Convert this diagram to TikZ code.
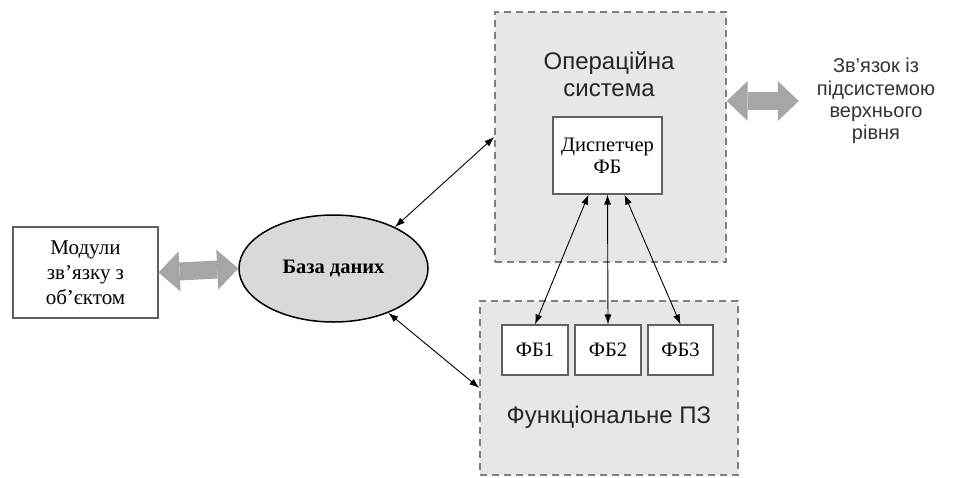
\documentclass[tikz,border=0pt]{standalone}
\usepackage{fontspec}
\setmainfont{Liberation Serif}
\setsansfont{Liberation Sans}
\usetikzlibrary{arrows.meta,shapes.geometric}

\definecolor{panelfill}{HTML}{E7E7E7}
\definecolor{panelline}{HTML}{7F7F7F}
\definecolor{boxline}{HTML}{606060}
\definecolor{dbfill}{HTML}{D9D9D9}
\definecolor{busfill}{HTML}{A6A6A6}

\tikzset{
  panel/.style={draw=panelline, fill=panelfill, line width=1.4pt,
    dash pattern=on 7pt off 5pt, inner sep=0pt},
  block/.style={draw=boxline, fill=white, line width=1.1pt, inner sep=0pt,
    align=center, font=\fontsize{20.5}{22}\selectfont},
  title/.style={font=\sffamily\fontsize{24}{27}\selectfont, align=center,
    inner sep=0pt, text=black!85},
  note/.style={font=\sffamily\fontsize{20}{22.3}\selectfont, align=center,
    inner sep=0pt, text=black!80},
  link/.style={line width=0.9pt,
    {Latex[length=10pt,width=7pt]}-{Latex[length=10pt,width=7pt]}},
  bus/.style={draw=busfill, line width=18pt,
    {Triangle[width=40pt,length=21pt,line width=0pt,fill=busfill]}-{Triangle[width=40pt,length=21pt,line width=0pt,fill=busfill]}},
}

\begin{document}
\begin{tikzpicture}[x=1pt,y=-1pt]
  \useasboundingbox (0,0) rectangle (960,477);

  % containers
  \node[panel, minimum width=231pt, minimum height=250pt] (os) at (610.5,137) {};
  \node[panel, minimum width=258pt, minimum height=174pt] (fp) at (609,388) {};

  % container titles
  \node[title] (ostitle) at (609,74) {Операційна\\система};
  \node[title] (fptitle) at (609,417) {Функціональне ПЗ};

  % dispatcher and function blocks
  \node[block, minimum width=109pt, minimum height=77pt] (disp) at (607.5,155.5)
    {Диспетчер\\ФБ};
  \node[block, minimum width=66pt, minimum height=50pt] (fb1) at (535,350) {ФБ1};
  \node[block, minimum width=66pt, minimum height=50pt] (fb2) at (608,350) {ФБ2};
  \node[block, minimum width=65pt, minimum height=50pt] (fb3) at (680.5,350) {ФБ3};

  % object interface modules and database
  \node[block, minimum width=145pt, minimum height=91pt,
    font=\fontsize{21}{25}\selectfont] (mod) at (85.5,272.5)
    {Модули\\зв’язку з\\об’єктом};
  \node[ellipse, draw=black, fill=dbfill, line width=1.5pt,
    minimum width=189pt, minimum height=107pt, inner sep=0pt,
    font=\bfseries\fontsize{20.5}{22}\selectfont] (db) at (333.5,268.5) {База даних};

  % upper-level link text
  \node[note] (up) at (876,101) {Зв’язок із\\підсистемою\\верхнього\\рівня};

  % wide buses
  \draw[bus] (mod.east) -- (db.west);
  \draw[bus] (os.east |- up.west) -- ([xshift=-18pt]up.west);

  % thin links
  \draw[link] (db.34) -- (os.west);
  \draw[link] (db.-39) -- (fp.west);
  \draw[link] ([xshift=-19pt]disp.south) -- (fb1.north);
  \draw[link] (disp.south) -- (fb2.north);
  \draw[link] ([xshift=17pt]disp.south) -- (fb3.north);
\end{tikzpicture}
\end{document}
